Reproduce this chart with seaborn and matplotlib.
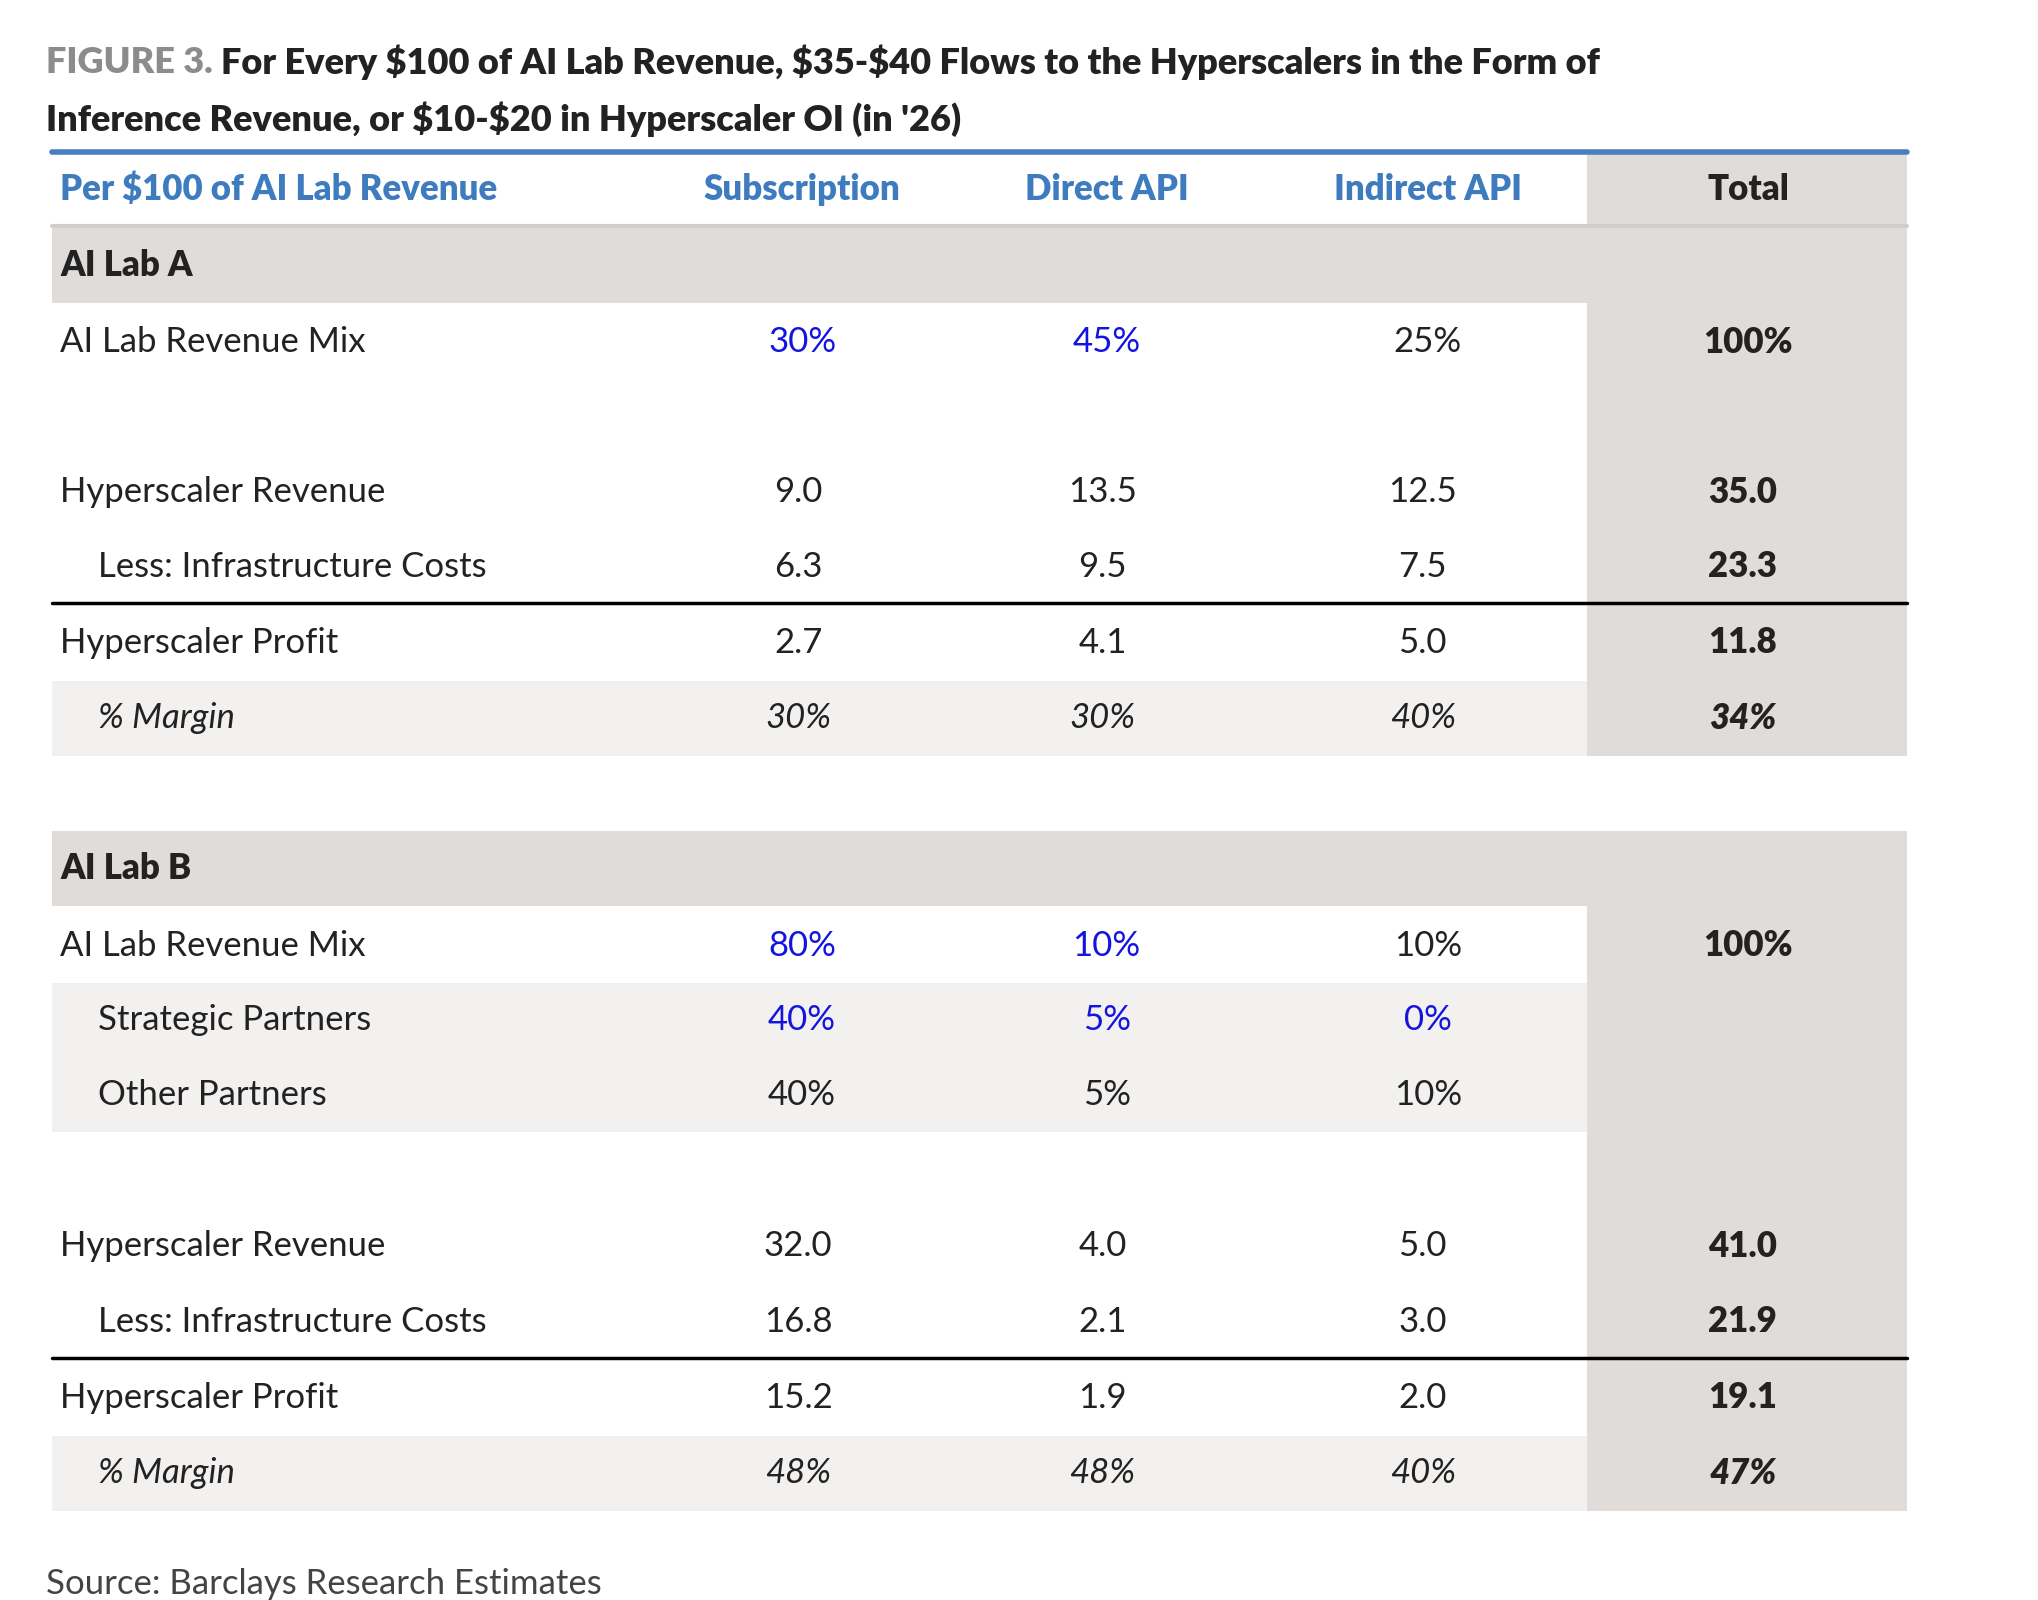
import matplotlib
matplotlib.use("Agg")
import matplotlib.pyplot as plt
import seaborn as sns

sns.set_theme(style="white")
plt.rcParams['font.family'] = ['Lato', 'DejaVu Sans']
plt.rcParams['text.parse_math'] = False

columns = ["Per $100 of AI Lab Revenue", "Subscription", "Direct API", "Indirect API", "Total"]

lab_a_labels = ["AI Lab Revenue Mix", "Hyperscaler Revenue", "Less: Infrastructure Costs", "Hyperscaler Profit", "% Margin"]
lab_a_values = [["30%", "45%", "25%", "100%"],
                ["9.0", "13.5", "12.5", "35.0"],
                ["6.3", "9.5", "7.5", "23.3"],
                ["2.7", "4.1", "5.0", "11.8"],
                ["30%", "30%", "40%", "34%"]]

lab_b_labels = ["AI Lab Revenue Mix", "Strategic Partners", "Other Partners", "Hyperscaler Revenue",
                "Less: Infrastructure Costs", "Hyperscaler Profit", "% Margin"]
lab_b_values = [["80%", "10%", "10%", "100%"],
                ["40%", "5%", "0%", ""],
                ["40%", "5%", "10%", ""],
                ["32.0", "4.0", "5.0", "41.0"],
                ["16.8", "2.1", "3.0", "21.9"],
                ["15.2", "1.9", "2.0", "19.1"],
                ["48%", "48%", "40%", "47%"]]

title_prefix = "FIGURE 3."
title_l1 = "For Every $100 of AI Lab Revenue, $35-$40 Flows to the Hyperscalers in the Form of"
title_l2 = "Inference Revenue, or $10-$20 in Hyperscaler OI (in '26)"
source = "Source: Barclays Research Estimates"

W, H = 1560, 1225
fig = plt.figure(figsize=(20.38, 16), dpi=100)
ax = fig.add_axes([0, 0, 1, 1])
ax.set_xlim(0, W); ax.set_ylim(H, 0); ax.axis("off")

L, R = 40, 1460
TOT_L = 1215
col_x = [46, 614, 847, 1093, 1338]
val_x = [None, 611, 844, 1089, 1334]
HEADBLUE = "#3f7cbf"
BLUE = "#1414e0"
DARK = "#222222"
GRAY_BAND = "#e0dcd9"
LIGHT_BAND = "#f3f1ef"
FS = 25
TFS = 26
rh = 57.5

def band(y0, y1, color, x0=L, x1=R):
    ax.fill_between([x0, x1], y0, y1, color=color, lw=0, zorder=0)

band(117, 578.5, GRAY_BAND, TOT_L, R)
band(636.5, 1157, GRAY_BAND, TOT_L, R)

t = ax.text(35, 48, title_prefix + " ", fontsize=TFS, fontweight="heavy", color="#8c8c8c", va="center")
fig.canvas.draw()
bb = t.get_window_extent().transformed(ax.transData.inverted())
ax.text(bb.x1, 48, title_l1, fontsize=TFS, fontweight="heavy", color=DARK, va="center")
ax.text(35, 91, title_l2, fontsize=TFS, fontweight="heavy", color=DARK, va="center")

ax.plot([L, R], [116, 116], color="#4a7fbf", lw=4, zorder=3)
for i, c in enumerate(columns):
    ha = "left" if i == 0 else "center"
    col = DARK if i == 4 else HEADBLUE
    ax.text(col_x[i], 145, c, fontsize=FS, fontweight="heavy", color=col, ha=ha, va="center")
ax.plot([L, R], [173, 173], color="#cfcfcf", lw=3, zorder=3)

def section(title, y_title, labels, values, ys, blue_rows, light_rows, indent_rows, italic_rows, line_y):
    band(y_title - rh / 2, y_title + rh / 2, GRAY_BAND)
    ax.text(col_x[0], y_title, title, fontsize=FS, fontweight="heavy", color=DARK, va="center")
    for r, (lab, vals, y) in enumerate(zip(labels, values, ys)):
        if r in light_rows:
            band(y - rh / 2, y + rh / 2, LIGHT_BAND, L, TOT_L)
        style = "italic" if r in italic_rows else "normal"
        x0 = 75 if r in indent_rows else col_x[0]
        ax.text(x0, y, lab, fontsize=FS, color=DARK, va="center", style=style)
        for j, v in enumerate(vals):
            is_pct = v.endswith("%")
            x = col_x[j + 1] if (is_pct and r not in italic_rows) else val_x[j + 1]
            color = BLUE if (r, j) in blue_rows else DARK
            weight = "heavy" if j == 3 else "normal"
            ax.text(x, y, v, fontsize=FS, color=color, ha="center", va="center",
                    style=style, fontweight=weight)
    ax.plot([L, R], [line_y, line_y], color="black", lw=2.5, zorder=3)

section("AI Lab A", 203, lab_a_labels, lab_a_values, [262, 377, 434, 492, 550],
        {(0, 0), (0, 1)}, {4}, {2, 4}, {4}, 462)
section("AI Lab B", 665, lab_b_labels, lab_b_values, [724, 781, 838, 954, 1012, 1070, 1128],
        {(0, 0), (0, 1), (1, 0), (1, 1), (1, 2)}, {1, 2, 6}, {1, 2, 4, 6}, {6}, 1040)

ax.text(35, 1213, source, fontsize=FS, color="#444444", va="center")

fig.savefig("out.png", dpi=100)
